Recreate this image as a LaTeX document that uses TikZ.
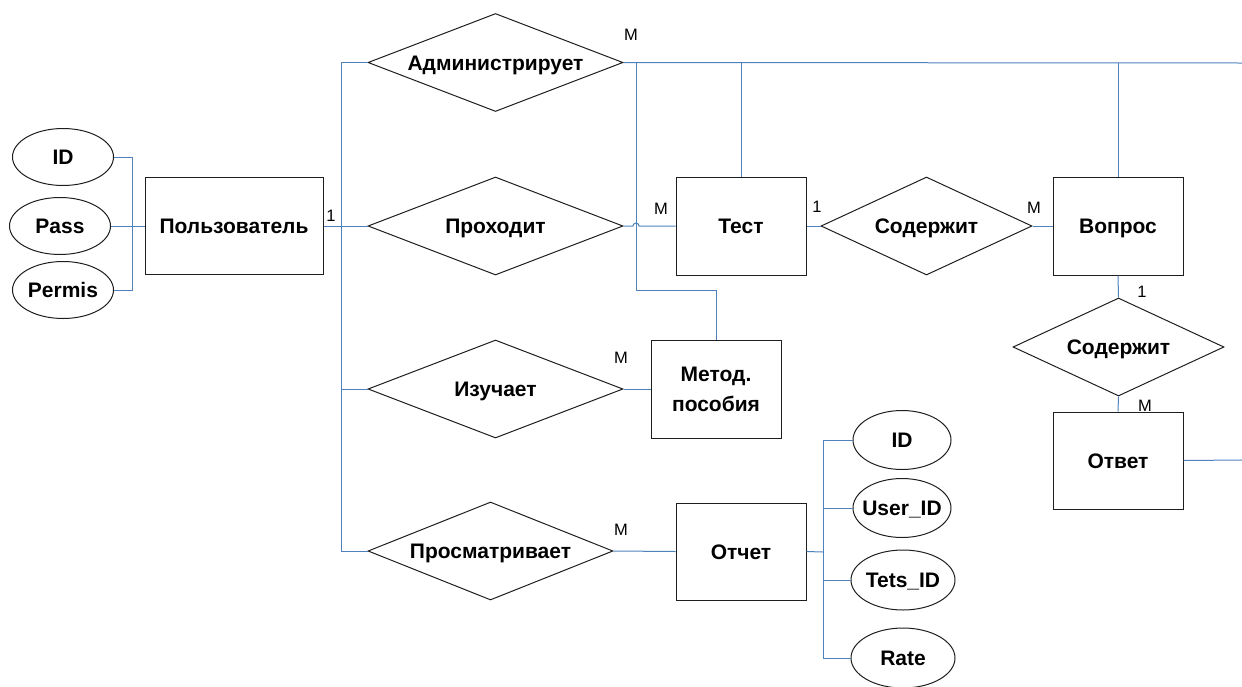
\documentclass[tikz,border=0pt]{standalone}
\usepackage{fontspec}
\setmainfont{Liberation Sans}
\usetikzlibrary{shapes.geometric}
\definecolor{linkc}{RGB}{79,129,189}
\definecolor{edge}{RGB}{30,30,30}
\begin{document}
\begin{tikzpicture}[x=1pt,y=-1pt,
  every node/.style={font=\fontsize{21}{30}\selectfont\bfseries, text height=15pt, text depth=0pt},
  entity/.style={draw=edge, line width=1pt, rectangle, inner sep=0pt,
    minimum width=130, minimum height=98, align=center},
  attr/.style={draw=edge, line width=1pt, ellipse, inner sep=0pt,
    minimum width=101, minimum height=57, label={center:#1}},
  rel/.style={draw=edge, line width=1pt, diamond, inner sep=0pt,
    minimum width=255, minimum height=98, label={center:#1}},
  card/.style={font=\fontsize{16.5}{19}\selectfont, text height=12pt, inner sep=0pt},
  link/.style={draw=linkc, line width=1pt}]
\useasboundingbox (0,0) rectangle (1242,686);

% user entity and its attributes
\node[attr=ID] (uid) at (63,157) {};
\node[attr=Pass] (upass) at (60,226) {};
\node[attr=Permis] (uperm) at (63,290) {};
\node[entity, minimum width=178, minimum height=97] (user) at (234,226) {Пользователь};

% relationships of the user
\node[rel=Администрирует] (adm) at (495.5,62.5) {};
\node[rel=Проходит] (proh) at (495.5,226) {};
\node[rel=Изучает] (izuch) at (495.5,389) {};
\node[rel=Просматривает, minimum width=245] (prosm) at (490.5,551) {};

% test, question, answer
\node[entity] (test) at (741,226) {Тест};
\node[rel=Содержит, minimum width=211] (sod1) at (926.5,226) {};
\node[entity] (vopr) at (1118,226) {Вопрос};
\node[rel=Содержит, minimum width=211] (sod2) at (1118.5,347) {};
\node[entity, minimum height=97] (otv) at (1118,460.5) {Ответ};

% manuals and report (two-line box: height spans both lines)
\node[entity, text height=45pt] (metod) at (716,389) {Метод.\\пособия};
\node[entity, minimum height=97] (otch) at (741,551.5) {Отчет};
\node[attr=ID, minimum width=98, minimum height=59] (rid) at (902,440) {};
\node[attr=User\_ID, minimum width=98, minimum height=59] (ruid) at (902,508) {};
\node[attr=Tets\_ID, minimum width=104, minimum height=60] (rtid) at (903,580) {};
\node[attr=Rate, minimum width=104, minimum height=60] (rrate) at (903,658) {};

% cardinalities
\node[card] (c1) at (631,34) {M};
\node[card] (c2) at (331,215) {1};
\node[card] (c3) at (661,208) {M};
\node[card] (c4) at (817,206) {1};
\node[card] (c5) at (1034,207) {M};
\node[card] (c6) at (1142,291) {1};
\node[card] (c7) at (1145,405) {M};
\node[card] (c8) at (621,357) {M};
\node[card] (c9) at (621,529) {M};

% junction points
\coordinate (jL) at (132,226);
\coordinate (bus) at (341,226);
\coordinate (eR1) at (1242,63);
\coordinate (eR2) at (1242,460);
\coordinate (jM) at (636,290);
\coordinate (jR) at (823,552);
\coordinate (hopA) at (633,226);

% connectors
\draw[link] (uid.east) -| (jL);
\draw[link] (uperm.east) -| (jL);
\draw[link] (upass.east) -- (user.west);
\draw[link] (user.east) -- (bus);
\draw[link] (adm.west) -| (bus);
\draw[link] (izuch.west) -| (bus);
\draw[link] (prosm.west) -| (bus);
\draw[link] (proh.west) -- (bus);
\draw[link] (adm.east) -- (eR1);
\draw[link] (test.north) -- (test.north |- adm.east);
\draw[link] (vopr.north) -- (vopr.north |- adm.east);
\draw[link] (metod.north) |- (jM) -- (jM |- adm.east);
\draw[link] (proh.east) -- (hopA) arc[start angle=180, end angle=0, radius=3pt] -- (test.west);
\draw[link] (test.east) -- (sod1.west);
\draw[link] (sod1.east) -- (vopr.west);
\draw[link] (vopr.south) -- (sod2.north);
\draw[link] (sod2.south) -- (otv.north);
\draw[link] (otv.east) -- (eR2);
\draw[link] (izuch.east) -- (metod.west);
\draw[link] (prosm.east) -- (otch.west);
\draw[link] (otch.east) -- (jR);
\draw[link] (rid.west) -| (jR);
\draw[link] (ruid.west) -| (jR);
\draw[link] (rtid.west) -| (jR);
\draw[link] (rrate.west) -| (jR);
\end{tikzpicture}
\end{document}
